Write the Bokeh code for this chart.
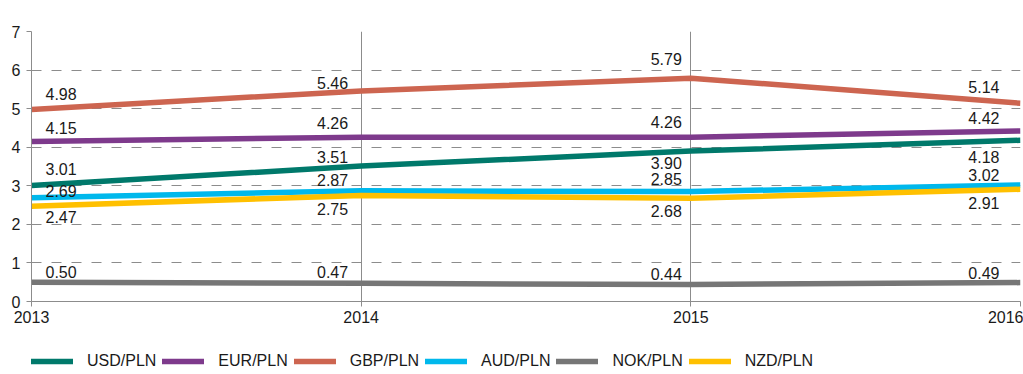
from bokeh.plotting import figure
from bokeh.layouts import column
from bokeh.models import ColumnDataSource, Legend, LegendItem, Label, FixedTicker, Range1d
from bokeh.embed import file_html
from bokeh.resources import INLINE
from bokeh.core.properties import value

years = [2013, 2014, 2015, 2016]
usd = [3.01, 3.51, 3.90, 4.18]
eur = [4.15, 4.26, 4.26, 4.42]
gbp = [4.98, 5.46, 5.79, 5.14]
aud = [2.69, 2.87, 2.85, 3.02]
nok = [0.50, 0.47, 0.44, 0.49]
nzd = [2.47, 2.75, 2.68, 2.91]
series_names = ["USD/PLN", "EUR/PLN", "GBP/PLN", "AUD/PLN", "NOK/PLN", "NZD/PLN"]
y_ticks = [0, 1, 2, 3, 4, 5, 6, 7]

# styling (not data)
colors = ["#00796B", "#7E3A8C", "#CD6550", "#00B8EC", "#767676", "#FFC000"]
# label vertical offsets in px (positive = up)
label_dy = [
    [16, 9, -12, -17],
    [13, 14, 15, 13],
    [15, 8, 19, 16],
    [7, 11, 13, 10],
    [10, 11, 11, 10],
    [-11, -14, -13, -14],
]
label_dx = [14, -13, -9, -21]
label_align = ["left", "right", "right", "right"]

FONT = "Liberation Sans"
TXT = "#1a1a1a"
GRID = "#8c8c8c"
LW = 5.5

p = figure(width=1023, height=330, x_range=(2013, 2016), y_range=(0, 7),
           output_backend="svg", toolbar_location=None,
           min_border_left=31, min_border_right=3, min_border_top=31, min_border_bottom=29)
p.outline_line_color = None
p.background_fill_color = "white"

for ax in (p.xaxis[0], p.yaxis[0]):
    ax.axis_line_color = GRID
    ax.major_tick_line_color = GRID
    ax.major_tick_out = 5
    ax.major_tick_in = 0
    ax.minor_tick_line_color = None
    ax.major_label_text_font = FONT
    ax.major_label_text_font_size = "16px"
    ax.major_label_text_color = TXT
p.xaxis.ticker = FixedTicker(ticks=years)
p.yaxis.ticker = FixedTicker(ticks=y_ticks)
p.xaxis.major_label_standoff = 4
p.yaxis.major_label_standoff = 6

p.xgrid.ticker = FixedTicker(ticks=years)
p.xgrid.grid_line_color = GRID
p.xgrid.grid_line_width = 1
p.ygrid.grid_line_color = GRID
p.ygrid.grid_line_dash = "10 10"
p.ygrid.grid_line_dash_offset = 0
p.ygrid.grid_line_width = 1

all_series = [usd, eur, gbp, aud, nok, nzd]
for vals, col in zip(all_series, colors):
    src = ColumnDataSource(dict(x=years, y=vals))
    p.line("x", "y", source=src, line_color=col, line_width=LW)

for vals, dys in zip(all_series, label_dy):
    src = ColumnDataSource(dict(
        x=years, y=vals, t=["%.2f" % v for v in vals],
        dx=label_dx, dy=[-d for d in dys], al=label_align))
    p.text("x", "y", text="t", source=src, x_offset="dx", y_offset="dy",
           text_align="al", text_baseline="middle",
           text_font=value(FONT), text_font_size="16px", text_color=TXT)

p.add_layout(Label(x=2013, y=7, x_offset=3, y_offset=4, text="%",
                   text_font=FONT, text_font_size="16px", text_color=TXT,
                   text_baseline="bottom"))

# legend strip
lg = figure(width=1023, height=44, x_range=Range1d(2013, 2016), y_range=Range1d(100, 101),
            output_backend="svg", toolbar_location=None,
            min_border_left=0, min_border_right=0, min_border_top=0, min_border_bottom=0)
lg.axis.visible = False
lg.grid.visible = False
lg.outline_line_color = None
items = []
for name, vals, col in zip(series_names, all_series, colors):
    src = ColumnDataSource(dict(x=years, y=vals))
    r = lg.line("x", "y", source=src, line_color=col, line_width=LW, line_cap="round")
    items.append(LegendItem(label=name, renderers=[r]))

legend = Legend(items=items, orientation="horizontal", location=(0, 4),
                glyph_width=42, glyph_height=16, label_standoff=14, spacing=6,
                border_line_color=None, background_fill_alpha=0,
                label_text_font=FONT, label_text_font_size="16px",
                label_text_color=TXT, padding=4, margin=0)
lg.add_layout(legend, "center")

layout = column(p, lg, spacing=0)
open("out.html", "w").write(file_html(layout, INLINE))
